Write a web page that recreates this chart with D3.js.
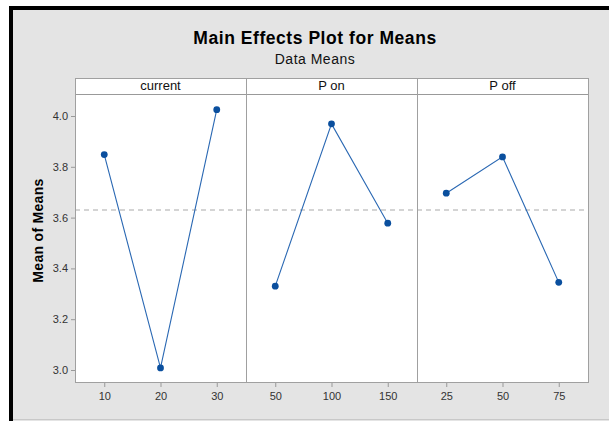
<!DOCTYPE html>
<html><head><meta charset="utf-8">
<script src="https://cdn.jsdelivr.net/npm/d3@7/dist/d3.min.js"></script>
<style>
html,body{margin:0;padding:0;background:#fff;}
svg{display:block;font-family:"Liberation Sans",Arial,sans-serif;}
</style></head><body>
<script>
const factors = ["current", "P on", "P off"];
const levels = [["10", "20", "30"], ["50", "100", "150"], ["25", "50", "75"]];
const means = [[3.848, 3.008, 4.025], [3.330, 3.969, 3.578], [3.696, 3.839, 3.345]];
const grandMean = 3.63;
const yTicks = [3.0, 3.2, 3.4, 3.6, 3.8, 4.0];

const W = 609, H = 421;
const svg = d3.select("body").append("svg").attr("width", W).attr("height", H);

// background
svg.append("rect").attr("x", 0).attr("y", 0).attr("width", W).attr("height", H).attr("fill", "#fff");
svg.append("rect").attr("x", 9).attr("y", 6).attr("width", W - 9).attr("height", H - 6).attr("fill", "#e4e4e4");
svg.append("rect").attr("x", 9).attr("y", 6).attr("width", W - 9).attr("height", 4).attr("fill", "#000");
svg.append("rect").attr("x", 9).attr("y", 6).attr("width", 4).attr("height", H - 6).attr("fill", "#000");
svg.append("line").attr("x1", 13).attr("x2", W).attr("y1", 419.5).attr("y2", 419.5).attr("stroke", "#c8c8c8");

// titles
svg.append("text").attr("x", 315).attr("y", 44).attr("text-anchor", "middle")
  .attr("font-size", 17.5).attr("letter-spacing", 0.55).attr("font-weight", "bold").attr("fill", "#000")
  .text("Main Effects Plot for Means");
svg.append("text").attr("x", 315).attr("y", 64).attr("text-anchor", "middle")
  .attr("font-size", 14).attr("letter-spacing", 0.5).attr("fill", "#111").text("Data Means");

const left = 75, right = 588, stripTop = 78, plotTop = 94, plotBottom = 383;
const pw = (right - left) / factors.length;

const y = d3.scaleLinear().domain([3.0, 4.0]).range([370, 116]);

// plot area white
svg.append("rect").attr("x", left).attr("y", stripTop).attr("width", right - left).attr("height", plotBottom - stripTop)
  .attr("fill", "#fff");

// y axis
const yAxis = svg.append("g").attr("transform", `translate(${left},0)`)
  .call(d3.axisLeft(y).tickValues(yTicks).tickFormat(d3.format(".1f")).tickSize(4).tickPadding(3));
yAxis.select(".domain").remove();
yAxis.selectAll(".tick line").attr("stroke", "#999");
yAxis.selectAll(".tick text").attr("font-size", 11).attr("fill", "#333").attr("font-family", "Liberation Sans, Arial, sans-serif");

svg.append("text").attr("transform", "translate(43,230.5) rotate(-90)").attr("text-anchor", "middle")
  .attr("font-size", 14).attr("letter-spacing", 0.3).attr("font-weight", "bold").attr("fill", "#000").text("Mean of Means");

// reference line
svg.append("line").attr("x1", left).attr("x2", right).attr("y1", y(grandMean)).attr("y2", y(grandMean))
  .attr("stroke", "#aaa").attr("stroke-width", 1.2).attr("stroke-dasharray", "5,4");

factors.forEach((f, i) => {
  const x0 = left + i * pw;
  const x = d3.scalePoint().domain(levels[i]).range([x0, x0 + pw]).padding(0.52);
  // strip
  svg.append("line").attr("x1", x0).attr("x2", x0 + pw).attr("y1", plotTop + 0.5).attr("y2", plotTop + 0.5).attr("stroke", "#999");
  svg.append("text").attr("x", x0 + pw / 2).attr("y", 90).attr("text-anchor", "middle")
    .attr("font-size", 13).attr("fill", "#111").text(f);
  // x axis
  const xa = svg.append("g").attr("transform", `translate(0,${plotBottom})`)
    .call(d3.axisBottom(x).tickSize(4).tickPadding(5));
  xa.select(".domain").remove();
  xa.selectAll(".tick line").attr("stroke", "#999");
  xa.selectAll(".tick text").attr("font-size", 11).attr("fill", "#333").attr("font-family", "Liberation Sans, Arial, sans-serif");
  // line
  const data = levels[i].map((l, j) => ({l, v: means[i][j]}));
  svg.append("path").datum(data)
    .attr("d", d3.line().x(d => x(d.l)).y(d => y(d.v)))
    .attr("fill", "none").attr("stroke", "#2a68b3").attr("stroke-width", 1.1);
  svg.selectAll(null).data(data).enter().append("circle")
    .attr("cx", d => x(d.l)).attr("cy", d => y(d.v)).attr("r", 3.4).attr("fill", "#0a4f9e");
  // panel frame
  svg.append("rect").attr("x", x0 + 0.5).attr("y", stripTop + 0.5).attr("width", pw).attr("height", plotBottom - stripTop - 1)
    .attr("fill", "none").attr("stroke", "#a0a0a0");
});
</script>
</body></html>
